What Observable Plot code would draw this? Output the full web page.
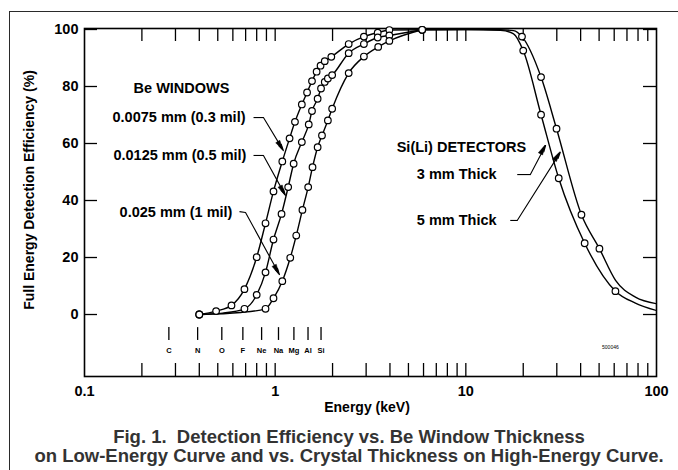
<!DOCTYPE html>
<html><head><meta charset="utf-8">
<script src="https://cdn.jsdelivr.net/npm/d3@7"></script>
<script src="https://cdn.jsdelivr.net/npm/@observablehq/plot@0.6"></script>
<style>
html,body{margin:0;padding:0;background:#fff;}
body{width:678px;height:470px;position:relative;overflow:hidden;font-family:"Liberation Sans",Arial,Helvetica,sans-serif;}
#border{position:absolute;left:9px;top:11px;width:720px;height:520px;border:1.5px solid #2a2a2a;box-sizing:border-box;}
#chart{position:absolute;left:0;top:0;}
#caption{position:absolute;left:20px;width:658px;top:427px;text-align:center;font-weight:bold;font-size:18.5px;line-height:19px;color:#333;}
</style></head>
<body>
<div id="border"></div>
<div id="chart"></div>
<div id="caption">Fig. 1.&nbsp; Detection Efficiency vs. Be Window Thickness<br>on Low-Energy Curve and vs. Crystal Thickness on High-Energy Curve.</div>
<script>
// ---------- data (energy in keV, efficiency in %) ----------
// Be window 0.0075 mm (0.3 mil): plotted points
const w0075E   = [0.40,0.49,0.59,0.69,0.80,0.89,0.98,1.09,1.19,1.27,1.38,1.47,1.56,1.65,1.73,1.82,1.97,2.43,2.92,3.45,3.97,5.9];
const w0075Eff = [0,1.2,3.2,8.9,20.1,32.0,43.2,53.7,61.8,67.6,73.7,77.9,81.9,85.2,87.3,88.9,90.4,94.9,97.5,98.9,99.8,99.9];
// Be window 0.0125 mm (0.5 mil)
const w0125E   = [0.40,0.69,0.80,0.89,0.98,1.08,1.17,1.25,1.38,1.50,1.56,1.67,1.74,1.82,1.89,1.99,2.43,2.92,3.45,3.97,5.9];
const w0125Eff = [0,2.0,6.9,14.8,26.3,35.3,44.7,52.9,60.5,66.7,71.4,75.7,79.3,81.6,82.8,84.0,91.7,94.9,97.2,97.9,99.9];
const w0125TraceE = [0.53], w0125TraceEff = [0.5];
// Be window 0.025 mm (1 mil)
const w025E   = [0.40,0.89,0.98,1.09,1.20,1.29,1.39,1.49,1.57,1.67,1.76,1.89,1.99,2.43,2.92,3.47,3.97,5.9];
const w025Eff = [0,2.0,5.7,11.7,19.9,27.7,36.7,44.7,51.7,58.7,62.8,68.1,72.2,84.7,90.5,93.9,96.0,99.9];
const w025TraceE = [0.66], w025TraceEff = [0.7];
// Si(Li) 3 mm thick
const d3E   = [20.0,24.8,30.7,42.0,60.9];
const d3Eff = [92.6,70.1,47.8,25.0,8.2];
const d3TraceE   = [5.9,10,15.2,17.8,77.5,100];
const d3TraceEff = [99.9,100,99.7,98.5,4.0,1.4];
// Si(Li) 5 mm thick
const d5E   = [19.7,24.8,29.9,40.4,50.2];
const d5Eff = [97.5,83.3,65.2,35.0,23.1];
const d5TraceE   = [5.9,10,15.2,17.8,61,77.5,100];
const d5TraceEff = [99.9,100,99.9,99.6,12,6.1,3.8];

// axes
const xMajor = [0.1,1,10,100];
const xMajorLabels = ["0.1","1","10","100"];
const xMinor = [0.2,0.3,0.4,0.5,0.6,0.7,0.8,0.9,1,2,3,4,5,6,7,8,9,10,20,30,40,50,60,70,80,90];
const yTicks = [0,20,40,60,80,100];
const xTitle = "Energy (keV)";
const yTitle = "Full Energy Detection Efficiency (%)";

// element K-alpha markers
const elements = ["C","N","O","F","Ne","Na","Mg","Al","Si"];
const elementE = [0.277,0.392,0.525,0.677,0.849,1.041,1.254,1.487,1.740];

// annotations
const windowLabels = ["0.0075 mm (0.3 mil)","0.0125 mm (0.5 mil)","0.025 mm (1 mil)"];
const windowLabelE = [0.699,0.707,0.597];
const windowLabelY = [69.1,55.8,35.8];
const detLabels = ["3 mm Thick","5 mm Thick"];
const detLabelE = [14.5,14.5];
const detLabelY = [49.1,33.0];
const groupTitles = ["Be WINDOWS","Si(Li) DETECTORS"];
const groupTitleE = [0.3226,9.48];
const groupTitleY = [79.3,58.6];
const leaderStartE = [0.770,0.770,0.650,18.6,17.1];
const leaderStartY = [69.1,55.8,36.1,49.1,33.0];
const leaderBendE  = [0.868,0.868,0.699,21.8,18.6];
const leaderBendY  = [69.1,55.8,35.8,49.1,33.0];
const leaderTipE   = [1.105,1.132,1.053,26.2,31.3];
const leaderTipY   = [57.5,41.8,14.0,59.3,56.9];
const drawingNo = "500046";

// ---------- build tables ----------
function rows(name, E, Y){ return E.map((e,i)=>({series:name, E:e, eff:Y[i]})); }
const circles = [
  ...rows("w0075", w0075E, w0075Eff),
  ...rows("w0125", w0125E, w0125Eff),
  ...rows("w025", w025E, w025Eff),
  ...rows("d3", d3E, d3Eff),
  ...rows("d5", d5E, d5Eff)
];
const sortE = a => a.sort((p,q)=>p.E-q.E);
const curves = [
  ...sortE(rows("w0075", w0075E, w0075Eff)),
  ...sortE([...rows("w0125", w0125E, w0125Eff), ...rows("w0125", w0125TraceE, w0125TraceEff)]),
  ...sortE([...rows("w025", w025E, w025Eff), ...rows("w025", w025TraceE, w025TraceEff)]),
  ...sortE([...rows("d3", d3E, d3Eff), ...rows("d3", d3TraceE, d3TraceEff)]),
  ...sortE([...rows("d5", d5E, d5Eff), ...rows("d5", d5TraceE, d5TraceEff)])
];
const leaders = leaderStartE.map((e,i)=>({x0:e,y0:leaderStartY[i],x1:leaderBendE[i],y1:leaderBendY[i],x2:leaderTipE[i],y2:leaderTipY[i]}));

const W=678, H=420, mL=84, mR=22, mT=28, mB=44;
const frameW = W-mL-mR, frameH = H-mT-mB, tickLen = 13;
const font = "'Liberation Sans', Arial, Helvetica, sans-serif";

const plot = Plot.plot({
  width: W, height: H,
  marginLeft: mL, marginRight: mR, marginTop: mT, marginBottom: mB,
  style: {fontFamily: font, fontSize: "14.5px", fontWeight: "bold", color: "#000", background: "transparent"},
  x: {type: "log", domain: [0.1, 100]},
  y: {domain: [-21.75, 100.35]},
  marks: [
    Plot.ruleX(xMinor, {insetTop: frameH - tickLen, strokeWidth: 1.3}),
    Plot.ruleX(xMinor, {insetBottom: frameH - tickLen, strokeWidth: 1.3}),
    Plot.ruleY(yTicks, {insetRight: frameW - tickLen, strokeWidth: 1.3}),
    Plot.ruleY(yTicks, {insetLeft: frameW - tickLen, strokeWidth: 1.3}),
    Plot.frame({strokeWidth: 1.6}),
    Plot.axisX(xMajor, {tickSize: 0, tickPadding: 9, label: null, fontSize: 14.5,
      tickFormat: d => xMajorLabels[xMajor.indexOf(d)]}),
    Plot.axisY(yTicks, {tickSize: 0, tickPadding: 6, label: null, fontSize: 14.5}),
    Plot.text([xTitle], {frameAnchor: "bottom", lineAnchor: "middle", textAnchor: "middle", dy: 31, dx: -3.5, fontSize: 14}),
    Plot.text([yTitle], {frameAnchor: "left", textAnchor: "middle", lineAnchor: "middle", dx: -55, dy: -12.5, rotate: -90, fontSize: 14}),
    // element markers
    Plot.ruleX(elementE, {y1: () => -4.6, y2: () => -9.1, strokeWidth: 1.3}),
    Plot.text(elements, {x: elementE, y: () => -12.6, fontSize: 7.5}),
    Plot.text([drawingNo], {x: () => 57.3, y: () => -11.6, fontSize: 5, fontWeight: "normal"}),
    // curves
    Plot.line(curves, {x: "E", y: "eff", z: "series", curve: "monotone-x", strokeWidth: 1.4, clip: true}),
    Plot.dot(circles, {x: "E", y: "eff", r: 3.3, fill: "white", stroke: "black", strokeWidth: 1.2}),
    // leaders
    Plot.link(leaders, {x1: "x0", y1: "y0", x2: "x1", y2: "y1", strokeWidth: 1.1}),
    Plot.arrow(leaders, {x1: "x1", y1: "y1", x2: "x2", y2: "y2", strokeWidth: 1.1, headLength: 9, headAngle: 24}),
    // labels
    Plot.text(windowLabels, {x: windowLabelE, y: windowLabelY, textAnchor: "end"}),
    Plot.text(detLabels, {x: detLabelE, y: detLabelY, textAnchor: "end"}),
    Plot.text(groupTitles, {x: groupTitleE, y: groupTitleY})
  ]
});
document.getElementById("chart").appendChild(plot);

// filled arrowheads, positioned through the plot's own scales
try {
  const sx = plot.scale("x"), sy = plot.scale("y");
  if (sx && sx.apply && sy && sy.apply) {
    const svg = d3.select(plot);
    leaders.forEach(d => {
      const ax = sx.apply(d.x1), ay = sy.apply(d.y1), bx = sx.apply(d.x2), by = sy.apply(d.y2);
      const L = Math.hypot(bx-ax, by-ay), ux = (bx-ax)/L, uy = (by-ay)/L;
      const hl = 10, hw = 2.4;
      const cx = bx - ux*hl, cy = by - uy*hl;
      svg.append("path")
        .attr("d", `M${bx},${by}L${cx - uy*hw},${cy + ux*hw}L${cx + uy*hw},${cy - ux*hw}Z`)
        .attr("fill", "black").attr("stroke", "black").attr("stroke-width", 0.5);
    });
  }
} catch (e) {}
</script>
</body></html>
